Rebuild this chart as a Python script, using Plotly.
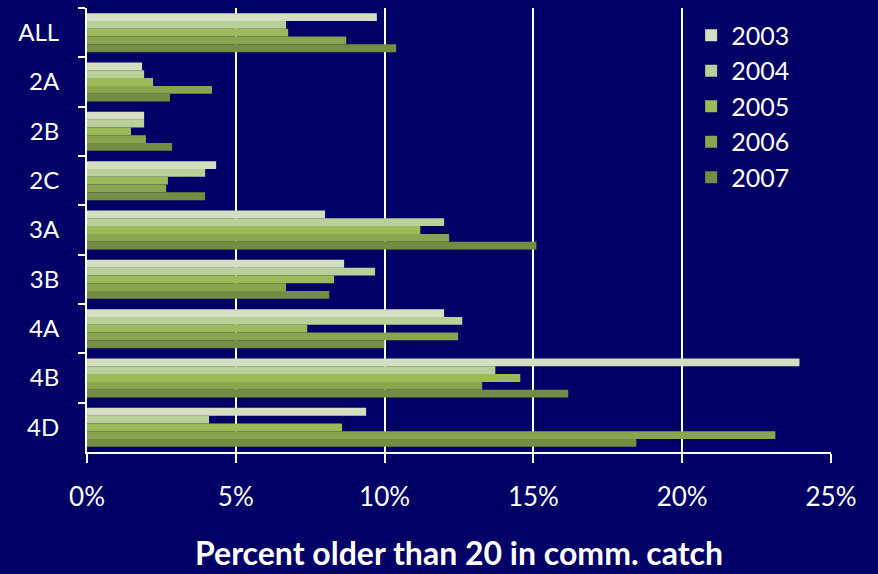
import plotly.graph_objects as go

categories = ["ALL", "2A", "2B", "2C", "3A", "3B", "4A", "4B", "4D"]
years = ["2003", "2004", "2005", "2006", "2007"]
# percent older than 20 in commercial catch (fractions)
v2003 = [0.0974, 0.0185, 0.0192, 0.0434, 0.0800, 0.0864, 0.1200, 0.2394, 0.0938]
v2004 = [0.0669, 0.0192, 0.0192, 0.0397, 0.1200, 0.0968, 0.1261, 0.1372, 0.0410]
v2005 = [0.0676, 0.0222, 0.0148, 0.0272, 0.1120, 0.0830, 0.0740, 0.1456, 0.0857]
v2006 = [0.0871, 0.0420, 0.0198, 0.0266, 0.1217, 0.0669, 0.1247, 0.1328, 0.2313]
v2007 = [0.1039, 0.0279, 0.0286, 0.0397, 0.1510, 0.0814, 0.0999, 0.1617, 0.1846]
series = [v2003, v2004, v2005, v2006, v2007]
colors = ["#D3DFC0", "#BBCF98", "#9BBB59", "#8AA54E", "#758D43"]

BG = "#000066"
FONT = "Lato, Open Sans, sans-serif"

fig = go.Figure()
for name, vals, col in zip(years, series, colors):
    fig.add_trace(go.Bar(
        y=categories, x=vals, name=name, orientation="h",
        marker=dict(color=col, line=dict(width=0)),
    ))

fig.update_layout(
    width=878, height=574,
    paper_bgcolor=BG, plot_bgcolor=BG,
    margin=dict(l=87, r=47, t=8, b=122, autoexpand=False),
    barmode="group", bargap=0.21, bargroupgap=0,
    font=dict(family=FONT, color="white", size=24),
    showlegend=True,
    legend=dict(
        x=0.812, y=0.99, xanchor="left", yanchor="top",
        bgcolor="rgba(0,0,0,0)", borderwidth=0,
        font=dict(family=FONT, size=25, color="white"),
        traceorder="normal", tracegroupgap=0, itemwidth=30,
    ),
    xaxis=dict(
        range=[0, 0.25], tickvals=[0, 0.05, 0.10, 0.15, 0.20, 0.25],
        tickformat=".0%",
        showgrid=True, gridcolor="white", gridwidth=2,
        showline=True, linecolor="white", linewidth=2,
        ticks="outside", ticklen=9, tickwidth=2, tickcolor="white",
        tickfont=dict(family=FONT, size=26, color="white"),
        ticklabelstandoff=12,
        zeroline=False, automargin=False,
        title=dict(text="<b>Percent older than 20 in comm. catch</b>",
                   font=dict(family=FONT, size=32, color="white"),
                   standoff=31),
    ),
    yaxis=dict(
        autorange="reversed", type="category",
        showgrid=False, automargin=False,
        showline=True, linecolor="white", linewidth=2,
        ticks="outside", ticklen=7, tickwidth=2, tickcolor="white",
        tickson="boundaries",
        tickfont=dict(family=FONT, size=24, color="white"),
        ticklabelstandoff=21,
    ),
)

fig.write_html(
    "out.html",
    config={"displayModeBar": False},
    post_script="document.body.style.margin='0';document.body.style.background='#000066';",
)
